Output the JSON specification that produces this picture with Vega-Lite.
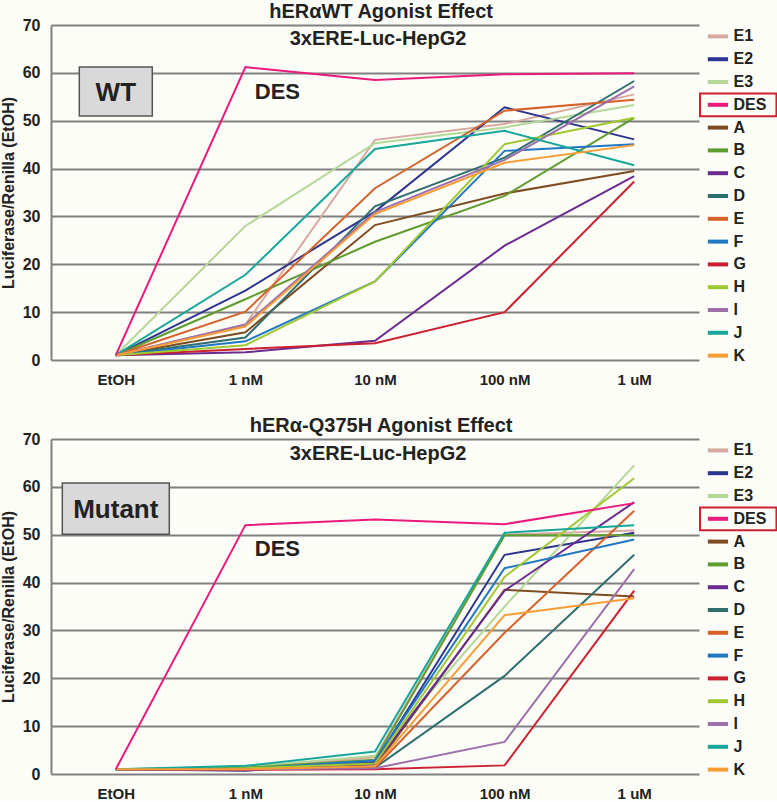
{
  "$schema": "https://vega.github.io/schema/vega-lite/v6.json",
  "background": "#fdfdf8",
  "padding": {"top": 2, "left": 0, "right": 0, "bottom": 0},
  "datasets": {
    "wt": [
      {"series":"E1","conc":"EtOH","value":1},{"series":"E1","conc":"1 nM","value":7.4},{"series":"E1","conc":"10 nM","value":46.0},{"series":"E1","conc":"100 nM","value":49.3},{"series":"E1","conc":"1 uM","value":55.5},
      {"series":"E2","conc":"EtOH","value":1},{"series":"E2","conc":"1 nM","value":14.5},{"series":"E2","conc":"10 nM","value":31.0},{"series":"E2","conc":"100 nM","value":52.8},{"series":"E2","conc":"1 uM","value":46.1},
      {"series":"E3","conc":"EtOH","value":1},{"series":"E3","conc":"1 nM","value":28.0},{"series":"E3","conc":"10 nM","value":45.3},{"series":"E3","conc":"100 nM","value":48.6},{"series":"E3","conc":"1 uM","value":53.3},
      {"series":"A","conc":"EtOH","value":1},{"series":"A","conc":"1 nM","value":5.8},{"series":"A","conc":"10 nM","value":28.2},{"series":"A","conc":"100 nM","value":34.8},{"series":"A","conc":"1 uM","value":39.5},
      {"series":"B","conc":"EtOH","value":1},{"series":"B","conc":"1 nM","value":12.7},{"series":"B","conc":"10 nM","value":24.7},{"series":"B","conc":"100 nM","value":34.3},{"series":"B","conc":"1 uM","value":50.6},
      {"series":"C","conc":"EtOH","value":1},{"series":"C","conc":"1 nM","value":1.6},{"series":"C","conc":"10 nM","value":4.0},{"series":"C","conc":"100 nM","value":23.9},{"series":"C","conc":"1 uM","value":38.4},
      {"series":"D","conc":"EtOH","value":1},{"series":"D","conc":"1 nM","value":4.7},{"series":"D","conc":"10 nM","value":32.1},{"series":"D","conc":"100 nM","value":42.3},{"series":"D","conc":"1 uM","value":58.3},
      {"series":"E","conc":"EtOH","value":1},{"series":"E","conc":"1 nM","value":10.1},{"series":"E","conc":"10 nM","value":35.9},{"series":"E","conc":"100 nM","value":52.1},{"series":"E","conc":"1 uM","value":54.4},
      {"series":"F","conc":"EtOH","value":1},{"series":"F","conc":"1 nM","value":3.9},{"series":"F","conc":"10 nM","value":16.4},{"series":"F","conc":"100 nM","value":43.7},{"series":"F","conc":"1 uM","value":45.1},
      {"series":"G","conc":"EtOH","value":1},{"series":"G","conc":"1 nM","value":2.3},{"series":"G","conc":"10 nM","value":3.5},{"series":"G","conc":"100 nM","value":10.0},{"series":"G","conc":"1 uM","value":37.3},
      {"series":"H","conc":"EtOH","value":1},{"series":"H","conc":"1 nM","value":3.1},{"series":"H","conc":"10 nM","value":16.4},{"series":"H","conc":"100 nM","value":45.1},{"series":"H","conc":"1 uM","value":50.6},
      {"series":"I","conc":"EtOH","value":1},{"series":"I","conc":"1 nM","value":7.4},{"series":"I","conc":"10 nM","value":30.9},{"series":"I","conc":"100 nM","value":41.8},{"series":"I","conc":"1 uM","value":57.2},
      {"series":"J","conc":"EtOH","value":1},{"series":"J","conc":"1 nM","value":17.8},{"series":"J","conc":"10 nM","value":44.1},{"series":"J","conc":"100 nM","value":47.9},{"series":"J","conc":"1 uM","value":40.7},
      {"series":"K","conc":"EtOH","value":1},{"series":"K","conc":"1 nM","value":7.0},{"series":"K","conc":"10 nM","value":30.5},{"series":"K","conc":"100 nM","value":41.2},{"series":"K","conc":"1 uM","value":44.9},
      {"series":"DES","conc":"EtOH","value":1},{"series":"DES","conc":"1 nM","value":61.2},{"series":"DES","conc":"10 nM","value":58.5},{"series":"DES","conc":"100 nM","value":59.7},{"series":"DES","conc":"1 uM","value":59.9}
    ],
    "mut": [
      {"series":"E1","conc":"EtOH","value":1},{"series":"E1","conc":"1 nM","value":1.2},{"series":"E1","conc":"10 nM","value":3.5},{"series":"E1","conc":"100 nM","value":50.0},{"series":"E1","conc":"1 uM","value":50.9},
      {"series":"E2","conc":"EtOH","value":1},{"series":"E2","conc":"1 nM","value":0.7},{"series":"E2","conc":"10 nM","value":2.5},{"series":"E2","conc":"100 nM","value":45.8},{"series":"E2","conc":"1 uM","value":50.4},
      {"series":"E3","conc":"EtOH","value":1},{"series":"E3","conc":"1 nM","value":1.5},{"series":"E3","conc":"10 nM","value":3.8},{"series":"E3","conc":"100 nM","value":35.0},{"series":"E3","conc":"1 uM","value":64.5},
      {"series":"A","conc":"EtOH","value":1},{"series":"A","conc":"1 nM","value":1.1},{"series":"A","conc":"10 nM","value":1.5},{"series":"A","conc":"100 nM","value":38.5},{"series":"A","conc":"1 uM","value":37.1},
      {"series":"B","conc":"EtOH","value":1},{"series":"B","conc":"1 nM","value":1.3},{"series":"B","conc":"10 nM","value":3.0},{"series":"B","conc":"100 nM","value":49.9},{"series":"B","conc":"1 uM","value":49.9},
      {"series":"C","conc":"EtOH","value":1},{"series":"C","conc":"1 nM","value":1.0},{"series":"C","conc":"10 nM","value":2.0},{"series":"C","conc":"100 nM","value":38.3},{"series":"C","conc":"1 uM","value":56.8},
      {"series":"D","conc":"EtOH","value":1},{"series":"D","conc":"1 nM","value":1.0},{"series":"D","conc":"10 nM","value":1.3},{"series":"D","conc":"100 nM","value":20.5},{"series":"D","conc":"1 uM","value":45.8},
      {"series":"E","conc":"EtOH","value":1},{"series":"E","conc":"1 nM","value":1.0},{"series":"E","conc":"10 nM","value":1.3},{"series":"E","conc":"100 nM","value":29.5},{"series":"E","conc":"1 uM","value":55.0},
      {"series":"F","conc":"EtOH","value":1},{"series":"F","conc":"1 nM","value":1.1},{"series":"F","conc":"10 nM","value":2.8},{"series":"F","conc":"100 nM","value":43.0},{"series":"F","conc":"1 uM","value":49.0},
      {"series":"G","conc":"EtOH","value":1},{"series":"G","conc":"1 nM","value":0.9},{"series":"G","conc":"10 nM","value":1.0},{"series":"G","conc":"100 nM","value":1.8},{"series":"G","conc":"1 uM","value":38.3},
      {"series":"H","conc":"EtOH","value":1},{"series":"H","conc":"1 nM","value":1.2},{"series":"H","conc":"10 nM","value":2.2},{"series":"H","conc":"100 nM","value":41.2},{"series":"H","conc":"1 uM","value":61.8},
      {"series":"I","conc":"EtOH","value":1},{"series":"I","conc":"1 nM","value":1.0},{"series":"I","conc":"10 nM","value":1.2},{"series":"I","conc":"100 nM","value":6.7},{"series":"I","conc":"1 uM","value":42.8},
      {"series":"J","conc":"EtOH","value":1},{"series":"J","conc":"1 nM","value":1.7},{"series":"J","conc":"10 nM","value":4.7},{"series":"J","conc":"100 nM","value":50.4},{"series":"J","conc":"1 uM","value":52.0},
      {"series":"K","conc":"EtOH","value":1},{"series":"K","conc":"1 nM","value":1.0},{"series":"K","conc":"10 nM","value":1.6},{"series":"K","conc":"100 nM","value":33.2},{"series":"K","conc":"1 uM","value":36.7},
      {"series":"DES","conc":"EtOH","value":1},{"series":"DES","conc":"1 nM","value":52.0},{"series":"DES","conc":"10 nM","value":53.2},{"series":"DES","conc":"100 nM","value":52.2},{"series":"DES","conc":"1 uM","value":56.6}
    ],
    "legend": [
      {"series":"E1"},{"series":"E2"},{"series":"E3"},{"series":"DES"},{"series":"A"},{"series":"B"},{"series":"C"},{"series":"D"},{"series":"E"},{"series":"F"},{"series":"G"},{"series":"H"},{"series":"I"},{"series":"J"},{"series":"K"}
    ]
  },
  "spacing": 29,
  "vconcat": [
    {
      "title": {"text": "hERαWT Agonist Effect", "dx": -8, "fontSize": 20, "fontWeight": "bold", "color": "#222222", "font": "Liberation Sans", "anchor": "middle", "offset": -5},
      "spacing": 0,
      "hconcat": [
        {
          "width": 648, "height": 335,
          "layer": [
            {
              "data": {"name": "wt"},
              "mark": {"type": "line", "strokeWidth": 2},
              "encoding": {
                "x": {"field": "conc", "type": "ordinal", "scale": {"type": "point", "domain": ["EtOH","1 nM","10 nM","100 nM","1 uM"], "padding": 0.5}, "axis": {"title": null, "domain": false, "ticks": false, "grid": false, "labelAngle": 0, "labelPadding": 12}},
                "y": {"field": "value", "type": "quantitative", "scale": {"domain": [0, 70]}, "axis": {"title": "Luciferase/Renilla (EtOH)", "values": [0,10,20,30,40,50,60,70]}},
                "color": {"field": "series", "type": "nominal", "scale": {"domain": ["E1","E2","E3","DES","A","B","C","D","E","F","G","H","I","J","K"], "range": ["#d8a8a2","#2c3590","#b4d898","#ea1a7c","#7d4c22","#5e9c2e","#6a2b90","#2f6e6e","#d6622a","#2077c4","#cc2030","#a0c830","#9d70aa","#17a69a","#f89c34"]}, "legend": null}
              }
            },
            {
              "data": {"values": [{"label": "WT"}]},
              "mark": {"type": "rect", "fill": "#d9d9d9", "stroke": "#555555", "strokeWidth": 1.5, "width": 73},
              "encoding": {"x": {"datum": "EtOH", "type": "ordinal"}, "y": {"datum": 51.0, "type": "quantitative"}, "y2": {"datum": 61.2}}
            },
            {
              "data": {"values": [{"label": "WT"}]},
              "mark": {"type": "text", "fontSize": 26, "fontWeight": "bold", "color": "#222222", "baseline": "middle", "align": "center", "dy": 1},
              "encoding": {"x": {"datum": "EtOH", "type": "ordinal"}, "y": {"datum": 56.1, "type": "quantitative"}, "text": {"field": "label"}}
            },
            {
              "data": {"values": [{"label": "DES"}]},
              "mark": {"type": "text", "fontSize": 22, "fontWeight": "bold", "color": "#222222", "baseline": "middle", "align": "center", "dx": 32},
              "encoding": {"x": {"datum": "1 nM", "type": "ordinal"}, "y": {"datum": 56.1, "type": "quantitative"}, "text": {"field": "label"}}
            },
            {
              "data": {"values": [{"label": "3xERE-Luc-HepG2"}]},
              "mark": {"type": "text", "fontSize": 20, "fontWeight": "bold", "color": "#222222", "baseline": "middle", "align": "center", "dx": 3},
              "encoding": {"x": {"datum": "10 nM", "type": "ordinal"}, "y": {"datum": 67.1, "type": "quantitative"}, "text": {"field": "label"}}
            }
          ]
        },
        {
          "width": 78, "height": 342,
          "data": {"name": "legend"},
          "layer": [
            {
              "transform": [{"filter": "datum.series === 'DES'"}],
              "mark": {"type": "rect", "fillOpacity": 0, "stroke": "#d0202e", "strokeWidth": 2},
              "encoding": {
                "y": {"field": "series", "type": "nominal", "scale": {"type": "band", "domain": ["E1","E2","E3","DES","A","B","C","D","E","F","G","H","I","J","K"], "paddingInner": 0, "paddingOuter": 0}, "axis": null},
                "x": {"datum": 0, "type": "quantitative", "scale": {"domain": [0, 1]}, "axis": null},
                "x2": {"datum": 0.98}
              }
            },
            {
              "mark": {"type": "rule", "strokeWidth": 4},
              "encoding": {
                "y": {"field": "series", "type": "nominal", "axis": null},
                "x": {"datum": 0.1, "type": "quantitative"},
                "x2": {"datum": 0.36},
                "color": {"field": "series", "type": "nominal", "legend": null}
              }
            },
            {
              "mark": {"type": "text", "align": "left", "baseline": "middle", "fontSize": 16, "fontWeight": "bold", "color": "#222222"},
              "encoding": {
                "y": {"field": "series", "type": "nominal", "axis": null},
                "x": {"datum": 0.43, "type": "quantitative"},
                "text": {"field": "series"}
              }
            }
          ]
        }
      ]
    },
    {
      "title": {"text": "hERα-Q375H Agonist Effect", "dx": -8, "fontSize": 20, "fontWeight": "bold", "color": "#222222", "font": "Liberation Sans", "anchor": "middle", "offset": -5},
      "spacing": 0,
      "hconcat": [
        {
          "width": 648, "height": 335,
          "layer": [
            {
              "data": {"name": "mut"},
              "mark": {"type": "line", "strokeWidth": 2},
              "encoding": {
                "x": {"field": "conc", "type": "ordinal", "scale": {"type": "point", "domain": ["EtOH","1 nM","10 nM","100 nM","1 uM"], "padding": 0.5}, "axis": {"title": null, "domain": false, "ticks": false, "grid": false, "labelAngle": 0, "labelPadding": 12}},
                "y": {"field": "value", "type": "quantitative", "scale": {"domain": [0, 70]}, "axis": {"title": "Luciferase/Renilla (EtOH)", "values": [0,10,20,30,40,50,60,70]}},
                "color": {"field": "series", "type": "nominal", "scale": {"domain": ["E1","E2","E3","DES","A","B","C","D","E","F","G","H","I","J","K"], "range": ["#d8a8a2","#2c3590","#b4d898","#ea1a7c","#7d4c22","#5e9c2e","#6a2b90","#2f6e6e","#d6622a","#2077c4","#cc2030","#a0c830","#9d70aa","#17a69a","#f89c34"]}, "legend": null}
              }
            },
            {
              "data": {"values": [{"label": "Mutant"}]},
              "mark": {"type": "rect", "fill": "#d9d9d9", "stroke": "#555555", "strokeWidth": 1.5, "width": 107},
              "encoding": {"x": {"datum": "EtOH", "type": "ordinal"}, "y": {"datum": 50.1, "type": "quantitative"}, "y2": {"datum": 60.8}}
            },
            {
              "data": {"values": [{"label": "Mutant"}]},
              "mark": {"type": "text", "fontSize": 26, "fontWeight": "bold", "color": "#222222", "baseline": "middle", "align": "center", "dy": 1},
              "encoding": {"x": {"datum": "EtOH", "type": "ordinal"}, "y": {"datum": 55.4, "type": "quantitative"}, "text": {"field": "label"}}
            },
            {
              "data": {"values": [{"label": "DES"}]},
              "mark": {"type": "text", "fontSize": 22, "fontWeight": "bold", "color": "#222222", "baseline": "middle", "align": "center", "dx": 32},
              "encoding": {"x": {"datum": "1 nM", "type": "ordinal"}, "y": {"datum": 47.0, "type": "quantitative"}, "text": {"field": "label"}}
            },
            {
              "data": {"values": [{"label": "3xERE-Luc-HepG2"}]},
              "mark": {"type": "text", "fontSize": 20, "fontWeight": "bold", "color": "#222222", "baseline": "middle", "align": "center", "dx": 3},
              "encoding": {"x": {"datum": "10 nM", "type": "ordinal"}, "y": {"datum": 66.9, "type": "quantitative"}, "text": {"field": "label"}}
            }
          ]
        },
        {
          "width": 78, "height": 342,
          "data": {"name": "legend"},
          "layer": [
            {
              "transform": [{"filter": "datum.series === 'DES'"}],
              "mark": {"type": "rect", "fillOpacity": 0, "stroke": "#d0202e", "strokeWidth": 2},
              "encoding": {
                "y": {"field": "series", "type": "nominal", "scale": {"type": "band", "domain": ["E1","E2","E3","DES","A","B","C","D","E","F","G","H","I","J","K"], "paddingInner": 0, "paddingOuter": 0}, "axis": null},
                "x": {"datum": 0, "type": "quantitative", "scale": {"domain": [0, 1]}, "axis": null},
                "x2": {"datum": 0.98}
              }
            },
            {
              "mark": {"type": "rule", "strokeWidth": 4},
              "encoding": {
                "y": {"field": "series", "type": "nominal", "axis": null},
                "x": {"datum": 0.1, "type": "quantitative"},
                "x2": {"datum": 0.36},
                "color": {"field": "series", "type": "nominal", "legend": null}
              }
            },
            {
              "mark": {"type": "text", "align": "left", "baseline": "middle", "fontSize": 16, "fontWeight": "bold", "color": "#222222"},
              "encoding": {
                "y": {"field": "series", "type": "nominal", "axis": null},
                "x": {"datum": 0.43, "type": "quantitative"},
                "text": {"field": "series"}
              }
            }
          ]
        }
      ]
    }
  ],
  "config": {
    "font": "Liberation Sans",
    "view": {"stroke": null},
    "axis": {"labelFont": "Liberation Sans", "labelFontSize": 16, "labelFontWeight": "bold", "labelColor": "#222222", "titleFontSize": 16, "titleFontWeight": "bold", "titleColor": "#222222"},
    "axisX": {"labelFontSize": 15},
    "axisY": {"grid": true, "gridColor": "#808080", "gridWidth": 2, "domain": true, "domainColor": "#808080", "domainWidth": 2, "ticks": false, "labelPadding": 11, "titlePadding": 6}
  }
}
